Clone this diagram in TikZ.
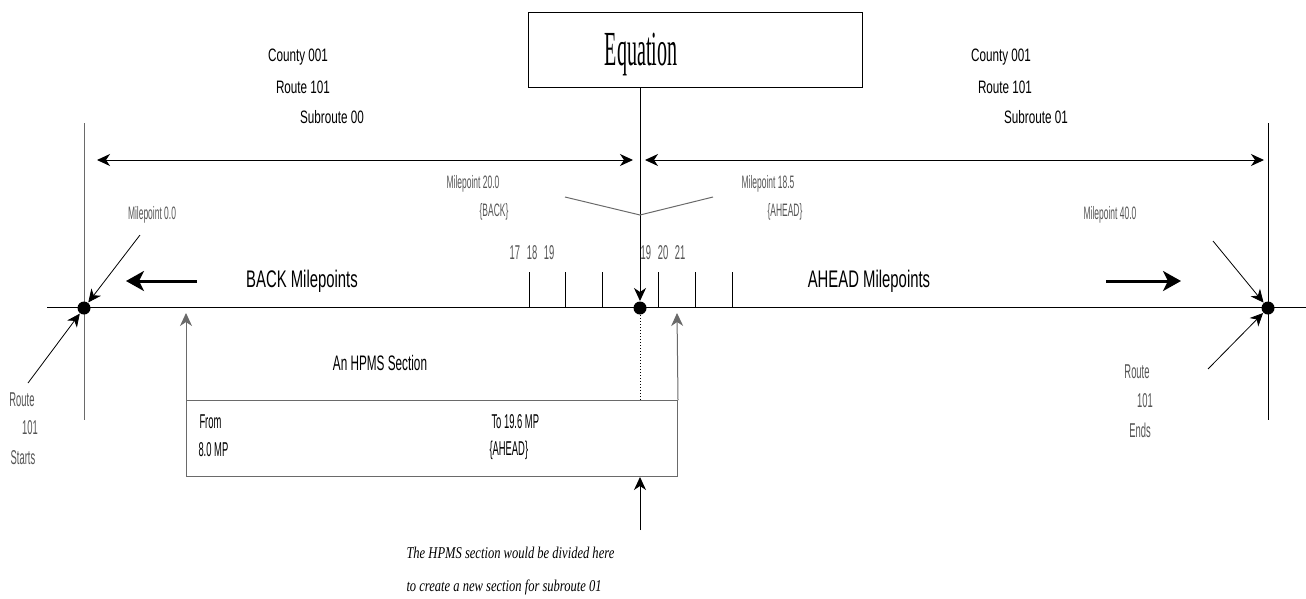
\documentclass[tikz,border=0pt]{standalone}
\usepackage{fontspec}
\setmainfont{Liberation Sans}
\newfontfamily\fN[FakeStretch=0.47]{Liberation Sans}
\newfontfamily\fM[FakeStretch=0.56]{Liberation Sans}
\newfontfamily\fC[FakeStretch=0.65]{Liberation Sans}
\newfontfamily\fW[FakeStretch=0.62]{Liberation Sans}
\newfontfamily\fI[FakeStretch=0.76]{Liberation Serif}
\newfontfamily\fS[FakeStretch=0.41]{Liberation Serif}
\usetikzlibrary{arrows.meta}
\definecolor{lbl}{HTML}{555555}
\definecolor{ln}{HTML}{6A6A6A}
\begin{document}
\begin{tikzpicture}[x=1pt,y=-1pt,
  tip/.style={-{Stealth[length=13pt,width=12pt,inset=4pt]}},
  dim/.style={{Stealth[length=13pt,width=12pt,inset=4pt]}-{Stealth[length=13pt,width=12pt,inset=4pt]}},
  big/.style={line width=3pt,-{Stealth[length=18pt,width=20pt,inset=5pt]}},
  dot/.style={circle,fill=black,inner sep=0pt,minimum size=13pt},
  cty/.style={inner sep=0pt,font=\fC\fontsize{18}{18}\selectfont},
  txt/.style={inner sep=0pt,font=\fM\fontsize{21}{21}\selectfont},
  nar/.style={inner sep=0pt,font=\fN\fontsize{20}{20}\selectfont},
  mp/.style={inner sep=0pt,text=lbl,font=\fN\fontsize{18}{18}\selectfont},
  head/.style={inner sep=0pt,font=\fW\fontsize{24}{24}\selectfont},
  note/.style={inner sep=0pt,anchor=west,font=\fI\itshape\fontsize{16.5}{16.5}\selectfont},
  line width=1pt]
\useasboundingbox (0,0) rectangle (1306,598);

% main line and end verticals
\coordinate (mL) at (47,307);
\coordinate (mR) at (1306,307);
\draw (mL) -- (mR);
\coordinate (lvT) at (84,123); \coordinate (lvB) at (84,420);
\coordinate (rvT) at (1268,123); \coordinate (rvB) at (1268,420);
\draw[ln] (lvT) -- (lvB);
\draw (rvT) -- (rvB);

% dots
\node[dot] (d0) at (84,308) {};
\node[dot] (deq) at (640,308) {};
\node[dot] (d40) at (1268,308) {};

% equation box
\node[draw,minimum width=334pt,minimum height=75pt,inner sep=0pt] (eq) at (695,49.5) {};
\node[inner sep=0pt,anchor=base,font=\fS\fontsize{49}{49}\selectfont] (eqt) at (641,65) {Equation};
\draw[tip] (eq.south -| deq) -- (deq.north);

% dimension arrows
\coordinate (dA) at (97,160); \coordinate (dB) at (633,160);
\coordinate (dC) at (645,160); \coordinate (dD) at (1264,160);
\draw[dim] (dA) -- (dB);
\draw[dim] (dC) -- (dD);

% county labels
\node[cty] (c1) at (298,57) {County 001};
\node[cty] (r1) at (303,87) {Route 101};
\node[cty] (s1) at (332,117) {Subroute 00};
\node[cty] (c2) at (1001,57) {County 001};
\node[cty] (r2) at (1005,87) {Route 101};
\node[cty] (s2) at (1036,117) {Subroute 01};

% equation milepoint labels and V
\node[mp] (m20) at (473,184) {Milepoint 20.0};
\node[mp] (bk) at (494,212) {\{BACK\}};
\node[mp] (m185) at (768,184) {Milepoint 18.5};
\node[mp] (ah) at (785,212) {\{AHEAD\}};
\draw[ln] (565,197) -- (640,215) -- (713,197);

% ticks
\foreach \x in {529,565,602,658,695,732} \draw (\x,272) -- (\x,307);
\node[nar,text=lbl] (tl) at (532,253) {17\,\,18\,\,19};
\node[nar,text=lbl] (tr) at (663,253) {19\,\,20\,\,21};

% milepoint 0.0 / route starts
\node[mp] (m0) at (152,215) {Milepoint 0.0};
\coordinate (m0a) at (140,235);
\draw[tip,line width=0.8pt] (m0a) -- (d0);
\node[nar,text=lbl] (rs1) at (22,400) {Route};
\node[nar,text=lbl] (rs2) at (30,428) {101};
\node[nar,text=lbl] (rs3) at (23,458) {Starts};
\coordinate (rsa) at (28,383);
\draw[tip,line width=0.8pt] (rsa) -- (d0);

% milepoint 40.0 / route ends
\node[mp] (m40) at (1110,215) {Milepoint 40.0};
\coordinate (m40a) at (1213,241);
\draw[tip,line width=0.8pt] (m40a) -- (d40);
\node[nar,text=lbl] (re1) at (1137,372) {Route};
\node[nar,text=lbl] (re2) at (1145,401) {101};
\node[nar,text=lbl] (re3) at (1140,430) {Ends};
\coordinate (rea) at (1208,369);
\draw[tip,line width=0.8pt] (rea) -- (d40);

% BACK / AHEAD headings
\node[head] (back) at (302,281) {BACK Milepoints};
\coordinate (bA) at (197,281); \coordinate (bB) at (126,281);
\draw[big] (bA) -- (bB);
\node[head] (ahead) at (869,281) {AHEAD Milepoints};
\coordinate (aA) at (1106,281); \coordinate (aB) at (1181,281);
\draw[big] (aA) -- (aB);

% HPMS section
\node[draw=ln,anchor=north west,minimum width=491pt,minimum height=76pt,inner sep=0pt] (hp) at (186,400) {};
\coordinate (hpL) at (186,313); \coordinate (hpR) at (677,313);
\draw[tip,ln] (hp.north west) -- (hpL);
\draw[tip,ln] (hp.north east) -- (hpR);
\node[txt] (sec) at (380,363) {An HPMS Section};
\node[nar,anchor=west] (fr1) at (199,422) {From};
\node[nar,anchor=west] (fr2) at (198,450) {8.0 MP};
\node[nar,anchor=west] (to1) at (491,422) {To 19.6 MP};
\node[nar,anchor=west] (to2) at (489,450) {\{AHEAD\}};
\draw[dotted] (deq.south) -- (deq |- hp.north);

% note
\coordinate (na) at (640,530);
\draw[tip] (na) -- (deq |- hp.south);
\node[note] (n1) at (406,553) {The HPMS section would be divided here};
\node[note] (n2) at (406,587) {to create a new section for subroute 01};
\end{tikzpicture}
\end{document}
